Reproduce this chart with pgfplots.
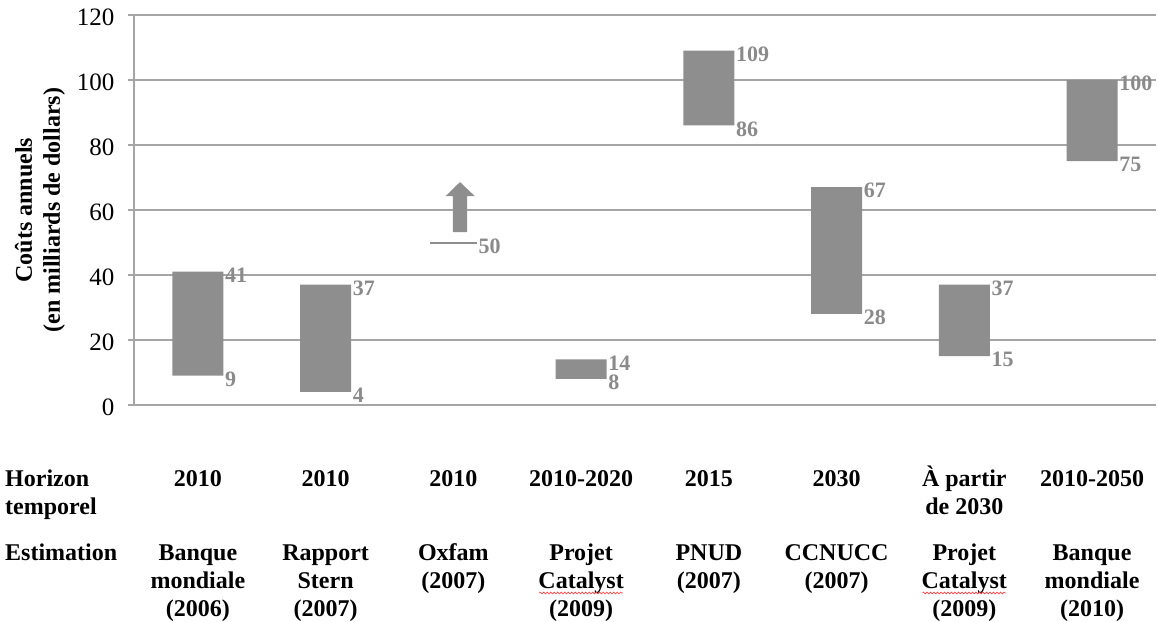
\documentclass[border=0pt]{standalone}
\usepackage{fontspec}
\setmainfont{Liberation Serif}
\usepackage{pgfplots}
\pgfplotsset{compat=1.18}
\usetikzlibrary{decorations.pathmorphing}
\definecolor{barGray}{RGB}{142,142,142}
\definecolor{labGray}{RGB}{138,138,138}
\definecolor{gridGray}{RGB}{165,165,165}
\newcommand\catfont{\bfseries\fontsize{24bp}{28bp}\selectfont}
\newcommand\cl[1]{\begin{tabular}[t]{@{}c@{}}#1\end{tabular}}
\begin{document}
\begin{tikzpicture}
\path[use as bounding box] (-134bp,-217bp) rectangle (1024bp,405bp);
\pgfplotsset{base/.style={scale only axis, width=1022bp, height=390bp,
  xmin=-0.5, xmax=7.5, ymin=0, ymax=120, at={(0,0)}, anchor=south west, clip=false}}
\begin{axis}[base,
  axis lines*=left,
  axis line style={draw=gridGray, line width=1.5bp},
  xtick=\empty,
  ytick={0,20,...,120},
  tick align=outside, major tick length=6bp,
  ytick style={draw=gridGray, line width=1.5bp},
  ymajorgrids, grid style={draw=gridGray, line width=1.5bp},
  /pgf/number format/assume math mode=true,
  yticklabel style={font=\fontsize{25bp}{28bp}\selectfont, text=black, xshift=-10bp, yshift=-2bp},
  ybar stacked, bar width=51bp,
]
\addplot[fill=none, draw=none] coordinates {(0,9) (1,4) (2,0) (3,8) (4,86) (5,28) (6,15) (7,75)};
\addplot[fill=barGray, draw=none] coordinates {(0,32) (1,33) (2,0) (3,6) (4,23) (5,39) (6,22) (7,25)};
\end{axis}
\begin{axis}[base, hide axis]
% Oxfam minimum line
\addplot[barGray, line width=2bp, mark=none] coordinates {(1.815,50) (2.185,50)};
% Oxfam arrow
\addplot[fill=barGray, draw=none, mark=none] coordinates {(1.997,53.2) (2.107,53.2) (2.107,64.3) (2.167,64.3) (2.052,68.6) (1.940,64.3) (1.997,64.3)};
% value labels
\addplot[draw=none, mark=none, nodes near coords, point meta=explicit symbolic,
  every node near coord/.append style={anchor=west, inner sep=0pt, xshift=1.5bp, yshift=-3.5bp,
    text=labGray, font=\bfseries\fontsize{22bp}{24bp}\selectfont}]
  coordinates {(0.2,41)[41] (1.2,37)[37] (2.185,50)[50] (3.2,14)[14] (4.2,109)[109] (5.2,67)[67] (6.2,37)[37] (7.2,100)[100]
   (0.2,9)[9] (1.2,4)[4] (3.2,8)[8] (4.2,86)[86] (5.2,28)[28] (6.2,15)[15] (7.2,75)[75]};
% y label
\node[rotate=90, align=center, font=\catfont, inner sep=0pt] at (axis description cs:-0.092,0.5)
  {Coûts annuels\\(en milliards de dollars)};
% rows
\tikzset{cat/.style={font=\catfont, inner sep=0pt, anchor=base}}
\node[cat, anchor=base west] at (axis cs:-0.5,0) [xshift=-129bp, yshift=-81bp] {\begin{tabular}[t]{@{}l@{}}Horizon\\temporel\end{tabular}};
\node[cat, anchor=base west] at (axis cs:-0.5,0) [xshift=-129bp, yshift=-155bp] {Estimation};
\node[cat] at (axis cs:0,0) [yshift=-81bp] {\cl{2010}};
\node[cat] at (axis cs:1,0) [yshift=-81bp] {\cl{2010}};
\node[cat] at (axis cs:2,0) [yshift=-81bp] {\cl{2010}};
\node[cat] at (axis cs:3,0) [yshift=-81bp] {\cl{2010-2020}};
\node[cat] at (axis cs:4,0) [yshift=-81bp] {\cl{2015}};
\node[cat] at (axis cs:5,0) [yshift=-81bp] {\cl{2030}};
\node[cat] at (axis cs:6,0) [yshift=-81bp] {\cl{À partir\\de 2030}};
\node[cat] at (axis cs:7,0) [yshift=-81bp] {\cl{2010-2050}};
\node[cat] at (axis cs:0,0) [yshift=-155bp] {\cl{Banque\\mondiale\\(2006)}};
\node[cat] at (axis cs:1,0) [yshift=-155bp] {\cl{Rapport\\Stern\\(2007)}};
\node[cat] at (axis cs:2,0) [yshift=-155bp] {\cl{Oxfam\\(2007)}};
\node[cat] at (axis cs:3,0) [yshift=-155bp] {\cl{Projet\\Catalyst\\(2009)}};
\node[cat] at (axis cs:4,0) [yshift=-155bp] {\cl{PNUD\\(2007)}};
\node[cat] at (axis cs:5,0) [yshift=-155bp] {\cl{CCNUCC\\(2007)}};
\node[cat] at (axis cs:6,0) [yshift=-155bp] {\cl{Projet\\Catalyst\\(2009)}};
\node[cat] at (axis cs:7,0) [yshift=-155bp] {\cl{Banque\\mondiale\\(2010)}};
\draw[red!75, line width=0.6bp, yshift=-188bp, decorate, decoration={snake, amplitude=0.9bp, segment length=3.5bp}]
  (axis cs:2.672,0) -- (axis cs:3.328,0);
\draw[red!75, line width=0.6bp, yshift=-188bp, decorate, decoration={snake, amplitude=0.9bp, segment length=3.5bp}]
  (axis cs:5.672,0) -- (axis cs:6.328,0);
\end{axis}
\end{tikzpicture}
\end{document}
